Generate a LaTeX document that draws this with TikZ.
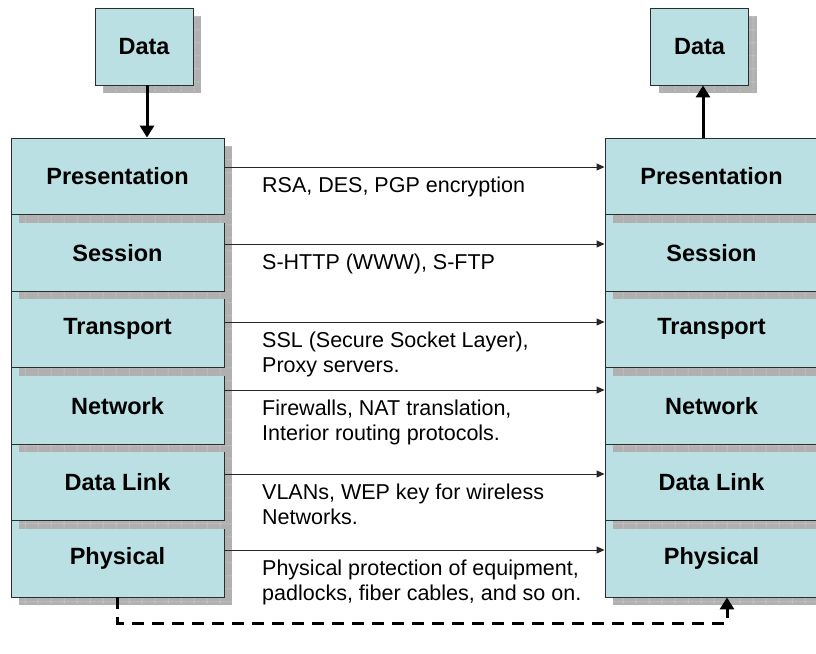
\documentclass[tikz,border=0pt]{standalone}
\usepackage{fontspec}
\setmainfont{Liberation Sans}
\usetikzlibrary{arrows.meta,calc,positioning,shadows,patterns.meta}
\definecolor{boxfill}{RGB}{186,224,227}
\definecolor{boxline}{RGB}{45,45,45}
\definecolor{shadowgray}{RGB}{176,176,176}
\definecolor{gridgray}{RGB}{205,205,205}
\tikzset{
  shadowed/.style={general shadow={shadow xshift=8pt,shadow yshift=-8pt,fill=shadowgray},
    general shadow={shadow xshift=8pt,shadow yshift=-8pt,
      pattern={Hatch[angle=0,distance=13pt,line width=0.5pt]},pattern color=gridgray}},
  layer/.style={shadowed,draw=boxline,line width=0.9pt,fill=boxfill,
    minimum width=213pt,minimum height=76.5pt,inner sep=0pt,
    font=\fontsize{23.5}{28}\selectfont\bfseries},
  databox/.style={layer,minimum width=98pt,minimum height=77pt},
  conn/.style={draw=black!85,line width=1pt,-{Triangle[length=8pt,width=7pt]}},
  flow/.style={line width=3pt,-{Triangle[length=12pt,width=14pt]}},
  note/.style={anchor=north west,align=left,inner sep=0pt,
    font=\fontsize{21.5}{25}\selectfont}
}
\begin{document}
\begin{tikzpicture}[x=1pt,y=-1pt]
  \useasboundingbox (0,0) rectangle (816,653);
  \clip (0,0) rectangle (816,653);
  % the two stacks, bottom layer first so each shadow falls on the one below
  \foreach \i/\name in {6/Physical,5/Data Link,4/Network,3/Transport,2/Session,1/Presentation}{
    \node[layer] (l\i) at (117.5,{138+76.5*(\i-0.5)}) {\name};
    \node[layer] (r\i) at (711.5,{138+76.5*(\i-0.5)}) {\name};
  }
  \node[databox] (ldata) at (144,46.5) {Data};
  \node[databox] (rdata) at (699.5,46.5) {Data};
  \draw[flow] (ldata.south -| 147,0) -- (l1.north -| 147,0);
  \draw[flow] (r1.north -| 703,0) -- (rdata.south -| 703,0);
  % protocols per layer
  \foreach \i/\y/\txt in {1/167/{RSA, DES, PGP encryption},
      2/244/{S-HTTP (WWW), S-FTP},
      3/322/{SSL (Secure Socket Layer),\\Proxy servers.},
      4/390/{Firewalls, NAT translation,\\Interior routing protocols.},
      5/474/{VLANs, WEP key for wireless\\Networks.},
      6/550/{Physical protection of equipment,\\padlocks, fiber cables, and so on.}}{
    \draw[conn] (l\i.east |- 0,\y) -- (r\i.west |- 0,\y);
    \node[note] (t\i) at (262,\y+10) {\txt};
  }
  \coordinate (bl) at (117.5,623);
  \coordinate (br) at (727,623);
  \draw[flow,dash pattern=on 12pt off 8pt] (l6.south) -- (bl) -- (br) -- (br |- r6.south);
\end{tikzpicture}
\end{document}
